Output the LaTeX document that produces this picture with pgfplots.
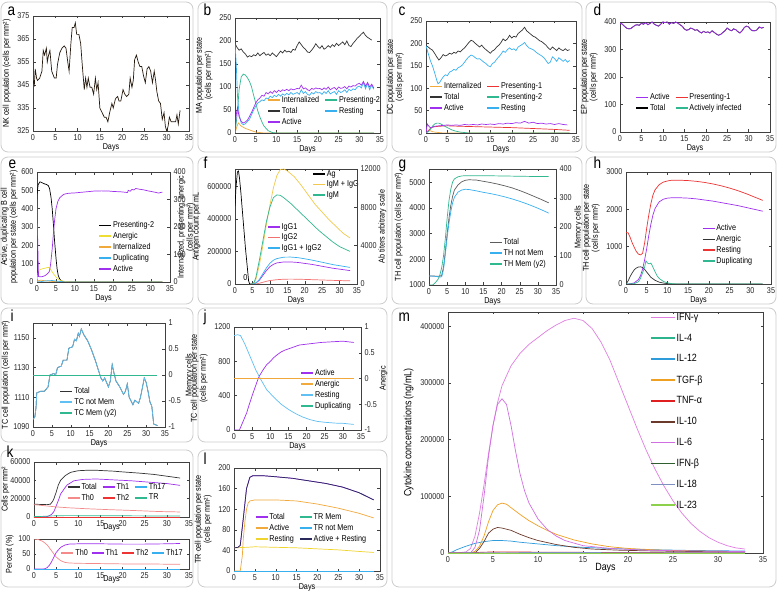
\documentclass[border=0pt]{standalone}
\usepackage{pgfplots}
\pgfplotsset{compat=1.18}
\usepackage{fontspec}
\setmainfont{Liberation Sans}[FakeStretch=0.85]

\definecolor{cblk}{HTML}{333333}
\definecolor{cpur}{HTML}{A030F0}
\definecolor{cgrn}{HTML}{30B890}
\definecolor{cblu}{HTML}{38B0F0}
\definecolor{corg}{HTML}{F2A93B}
\definecolor{cred}{HTML}{EE3333}
\definecolor{cyel}{HTML}{EEDD33}
\definecolor{cpink}{HTML}{F48A8A}
\definecolor{cigy}{HTML}{F2C94C}
\definecolor{mifng}{HTML}{E07FE0}
\definecolor{mil4}{HTML}{2CB58C}
\definecolor{mil12}{HTML}{2E9CDB}
\definecolor{mtgf}{HTML}{F0A020}
\definecolor{mtnf}{HTML}{E02020}
\definecolor{mil10}{HTML}{6B3A2A}
\definecolor{mil6}{HTML}{D070E0}
\definecolor{mifnb}{HTML}{2F5F2F}
\definecolor{mil18}{HTML}{7F8FBF}
\definecolor{mil23}{HTML}{8CD04C}

\newcommand{\sfont}{\fontsize{8.5}{9}\selectfont}
\newcommand{\mfont}{\fontsize{10.5}{11.5}\selectfont}

\pgfplotsset{
  ticks/.style={
    scale only axis, xmin=0, xmax=35, anchor=south west,
    tick align=inside, major tick length=2.5pt,
    axis line style={black!75, line width=0.5pt},
    every tick/.style={black!75, line width=0.4pt},
    tick label style={font=\sfont, black!85},
    label style={font=\sfont},
    ylabel style={align=center},
    /pgf/number format/assume math mode=true,
    scaled ticks=false,
    yticklabel style={/pgf/number format/fixed, /pgf/number format/1000 sep={}},
    no markers,
    every axis plot/.append style={line width=0.7pt},
  },
  leg/.style={
    legend style={draw=none, fill=none, font=\sfont,
      inner sep=0pt, row sep=1.2pt, nodes={inner sep=1pt},
      /tikz/every even column/.append style={column sep=4pt}},
    legend cell align=left,
    legend image code/.code={\draw[##1, line width=1.8pt] (0pt,0pt) -- (12pt,0pt);},
  },
  base/.style={
    ticks, leg, xtick={0,5,...,35},
    xlabel={Days}, xlabel style={yshift=4pt},
  },
  twin/.style={ticks, leg, axis x line=none, axis y line*=right},
}

\begin{document}
\begin{tikzpicture}[x=1pt,y=1pt]
\path[use as bounding box, fill=white] (0,0) rectangle (777,590);
\begin{scope}[black!20, line width=0.8pt, rounded corners=7pt]
\draw (1,438) rectangle (193,588);
\draw (198,438) rectangle (387,588);
\draw (392,438) rectangle (582,588);
\draw (586,438) rectangle (776,588);
\draw (1,286) rectangle (193,433);
\draw (198,286) rectangle (387,433);
\draw (392,286) rectangle (582,433);
\draw (586,286) rectangle (776,433);
\draw (1,148) rectangle (193,282);
\draw (198,148) rectangle (387,282);
\draw (1,3) rectangle (193,140);
\draw (198,3) rectangle (387,140);
\draw (392,3) rectangle (776,282);
\end{scope}
\begin{scope}[font=\fontsize{16}{16}\selectfont]
\node[anchor=base west] at (4,574) {a};
\node[anchor=base west] at (200,574) {b};
\node[anchor=base west] at (395,574) {c};
\node[anchor=base west] at (590,574) {d};
\node[anchor=base west] at (5,421) {e};
\node[anchor=base west] at (200,421) {f};
\node[anchor=base west] at (395,421) {g};
\node[anchor=base west] at (590,421) {h};
\node[anchor=base west] at (7,268) {i};
\node[anchor=base west] at (200,268) {j};
\node[anchor=base west] at (395,268) {m};
\node[anchor=base west] at (3,133) {k};
\node[anchor=base west] at (200,126) {l};
\end{scope}
\begin{scope}[font=\sfont]
\node[rotate=90, anchor=north, align=center] at (174,363) {Internalized, presenting, anergic\\(cells per mm²)};
\node[rotate=90, anchor=north] at (375,363.5) {Ab titers arbitrary scale};
\node[rotate=90, anchor=north] at (571,363) {Memory cells};
\node[rotate=90, anchor=north] at (182,215) {Memory cells};
\node[rotate=90, anchor=north] at (376,211.5) {Anergic};
\end{scope}

% a
\begin{axis}[base, at={(33pt,459pt)}, width=156pt, height=115pt,
  ymin=325, ymax=375, ytick={325,335,...,375},
  ylabel={NK cell population (cells per mm²)}]
\addplot[color=black!80!brown] coordinates {(0,347)(0.3,345)(0.5,352)(0.8,348)(1,347)(1.5,348)(2,351)(2.3,360)(2.6,358)(3,361)(3.2,355)(3.5,358)(3.8,360)(4.2,351)(4.8,348)(5.2,348)(5.5,354)(6,359)(6.5,361)(7,362)(7.4,361)(7.8,355)(8.1,351)(8.5,363)(8.8,370)(9.2,370)(9.5,372)(9.8,367)(10.3,367)(10.7,363)(11,355)(11.5,343)(11.8,348)(12.1,344)(12.4,348)(12.8,344)(13.2,344)(13.6,341)(14,348)(14.3,343)(14.6,346)(15,335)(15.5,333)(16,331)(16.4,331)(16.8,329)(17.2,333)(17.7,337)(18,335)(18.5,339)(19,340)(19.3,338)(19.7,338)(20.2,343)(20.6,341)(21,340)(21.5,341)(21.8,348)(22.2,344)(22.5,347)(22.8,356)(23.2,358)(23.6,355)(24,353)(24.4,353)(24.8,349)(25.2,346)(25.6,352)(26,353)(26.4,351)(26.8,346)(27.2,351)(27.5,347)(27.8,342)(28.2,338)(28.6,337)(29,330)(29.4,333)(29.7,327)(30,325)(30.3,327)(30.6,331)(31,329)(31.5,329)(32,329)(32.3,332)(32.6,328)(33,334)};
\end{axis}

% b
\begin{axis}[base, at={(235pt,457pt)}, width=145pt, height=115pt,
  ymin=0, ymax=250, ytick={0,50,...,250},
  ylabel={MA population per state\\(cells per mm²)},
  legend columns=2, legend style={at={(0.22,0.33)}, anchor=north west}]
\addplot[corg] coordinates {(0,0)(0.5,15)(0.8,22)(1.5,15)(2.5,10)(4,5)(5,2)(7,0)(33.5,0)};
\addlegendentry{Internalized}
\addplot[cgrn] coordinates {(0,0)(0.4,30)(0.7,60)(1,95)(1.5,122)(2,128)(2.5,126)(3,120)(3.5,112)(4,100)(4.5,82)(5,65)(5.5,48)(6,35)(6.5,24)(7,15)(8,5)(9,1)(10,0)(33.5,0)};
\addlegendentry{Presenting-2}
\addplot[cblk] coordinates {(0,195)(0.5,186)(1,180)(1.5,183)(2,176)(2.5,172)(3,165)(3.5,168)(4,166)(4.5,170)(5,168)(5.5,174)(6,168)(6.5,172)(7,175)(7.5,169)(8,172)(8.5,168)(9,174)(9.5,170)(10,166)(10.5,172)(11,178)(11.5,174)(12,180)(12.5,176)(13,178)(13.5,175)(14,182)(14.5,180)(15,190)(15.5,198)(16,192)(16.5,186)(17,182)(17.5,176)(18,175)(18.5,180)(19,186)(19.5,194)(20,188)(20.5,184)(21,190)(21.5,182)(22,185)(22.5,190)(23,186)(23.5,192)(24,188)(24.5,195)(25,190)(25.5,194)(26,198)(26.5,192)(27,200)(27.5,190)(28,188)(28.5,195)(29,200)(29.5,206)(30,210)(30.5,215)(31,219)(31.5,212)(32,208)(32.5,205)(33,202)};
\addlegendentry{Total}
\addplot[cblu] coordinates {(0,195)(0.3,150)(0.6,80)(1,40)(1.5,22)(2,18)(2.5,20)(3,25)(3.5,30)(4,40)(4.5,50)(5,58)(5.5,65)(6,68)(6.5,72)(7,70)(7.5,76)(8,74)(8.5,80)(9,77)(9.5,82)(10,79)(10.5,84)(11,80)(11.5,85)(12,82)(12.5,86)(13,83)(13.5,88)(14,84)(14.5,86)(15,88)(15.5,84)(16,94)(16.5,86)(17,90)(17.5,84)(18,82)(18.5,88)(19,85)(19.5,90)(20,87)(20.5,88)(21,84)(21.5,90)(22,86)(22.5,92)(23,85)(23.5,88)(24,90)(24.5,84)(25,92)(25.5,88)(26,90)(26.5,94)(27,88)(27.5,95)(28,92)(28.5,96)(29,94)(29.5,100)(30,102)(30.5,98)(31,110)(31.5,96)(32,108)(32.5,94)(33,104)(33.5,95)};
\addlegendentry{Resting}
\addplot[cpur] coordinates {(0,0)(0.3,40)(0.6,55)(1,35)(1.5,25)(2,22)(2.5,24)(3,28)(3.5,36)(4,45)(4.5,55)(5,65)(5.5,72)(6,76)(6.5,82)(7,80)(7.5,88)(8,85)(8.5,90)(9,86)(9.5,92)(10,88)(10.5,93)(11,90)(11.5,94)(12,92)(12.5,95)(13,92)(13.5,96)(14,94)(14.5,95)(15,97)(15.5,96)(16,104)(16.5,96)(17,98)(17.5,94)(18,92)(18.5,97)(19,95)(19.5,98)(20,96)(20.5,97)(21,94)(21.5,98)(22,95)(22.5,100)(23,94)(23.5,97)(24,99)(24.5,94)(25,100)(25.5,97)(26,98)(26.5,101)(27,96)(27.5,102)(28,100)(28.5,103)(29,102)(29.5,106)(30,108)(30.5,104)(31,112)(31.5,102)(32,110)(32.5,100)(33,106)(33.5,98)};
\addlegendentry{Active}
\end{axis}

% c
\begin{axis}[base, at={(426pt,457pt)}, width=150pt, height=112pt,
  ymin=0, ymax=250, ytick={0,50,...,250},
  ylabel={DC population per state\\(cells per mm²)},
  legend columns=2, legend style={at={(0.02,0.46)}, anchor=north west}]
\addplot[corg] coordinates {(0,0)(0.5,4)(1,5)(1.5,3)(2,2)(3,1)(4,0)(33.5,0)};
\addlegendentry{Internalized}
\addplot[cred] coordinates {(0,0)(0.5,5)(1,10)(1.5,13)(2,14)(3,15)(5,16)(8,15)(12,14)(16,13)(20,12)(25,10)(30,8)(33.5,6)};
\addlegendentry{Presenting-1}
\addplot[cblk] coordinates {(0,195)(0.5,192)(1,188)(1.5,185)(2,178)(2.5,170)(3,163)(3.5,168)(4,175)(4.5,172)(5,174)(5.5,178)(6,176)(6.5,180)(7,178)(7.5,183)(8,181)(8.5,186)(9,190)(9.5,196)(10,202)(10.5,207)(11,205)(11.5,200)(12,196)(12.5,192)(13,196)(13.5,190)(14,186)(14.5,182)(15,178)(15.5,183)(16,186)(16.5,192)(17,196)(17.5,202)(18,210)(18.5,206)(19,210)(19.5,218)(20,212)(20.5,216)(21,214)(21.5,222)(22,226)(22.5,230)(23,236)(23.5,228)(24,224)(24.5,220)(25,216)(25.5,214)(26,210)(26.5,206)(27,204)(27.5,200)(28,196)(28.5,190)(29,186)(29.5,192)(30,188)(30.5,184)(31,190)(31.5,186)(32,184)(32.5,188)(33,184)(33.5,186)};
\addlegendentry{Total}
\addplot[cgrn] coordinates {(0,0)(0.5,3)(1,8)(1.5,15)(2,20)(2.5,22)(3,22)(3.5,20)(4,17)(5,12)(6,7)(7,4)(8,2)(9,1)(10,0)(33.5,0)};
\addlegendentry{Presenting-2}
\addplot[cpur] coordinates {(0,0)(0.3,20)(0.6,16)(1,12)(1.5,13)(2,15)(3,16)(4,17)(5,18)(6,17)(7,18)(8,17)(9,19)(10,18)(11,19)(12,18)(13,20)(14,19)(15,20)(16,19)(17,21)(18,20)(19,22)(20,21)(21,23)(22,22)(23,26)(24,22)(25,24)(26,21)(27,22)(28,20)(29,21)(30,19)(31,21)(32,19)(33,18)};
\addlegendentry{Active}
\addplot[cblu] coordinates {(0,195)(0.5,178)(1,162)(1.5,150)(2,135)(2.5,118)(2.8,110)(3.2,113)(3.5,118)(4,125)(4.5,130)(5,128)(5.5,136)(6,138)(6.5,142)(7,140)(7.5,146)(8,148)(8.5,152)(9,158)(9.5,165)(10,170)(10.5,174)(11,172)(11.5,168)(12,165)(12.5,166)(13,162)(13.5,158)(14,155)(14.5,150)(15,148)(15.5,155)(16,158)(16.5,165)(17,170)(17.5,176)(18,183)(18.5,180)(19,186)(19.5,190)(20,186)(20.5,188)(21,184)(21.5,192)(22,195)(22.5,198)(23,202)(23.5,195)(24,190)(24.5,188)(25,186)(25.5,182)(26,178)(26.5,175)(27,172)(27.5,168)(28,162)(28.5,155)(29,158)(29.5,170)(30,166)(30.5,160)(31,168)(31.5,164)(32,160)(32.5,164)(33,158)(33.5,162)};
\addlegendentry{Resting}
\end{axis}

% d
\begin{axis}[base, at={(620pt,458pt)}, width=150pt, height=110pt,
  ymin=0, ymax=400, ytick={0,100,...,400},
  ylabel={EP population per state\\(cells per mm²)},
  legend columns=2, legend style={at={(0.1,0.36)}, anchor=north west}]
\addplot[black, forget plot] coordinates {(0,395)(0.5,393)(1,385)(1.5,378)(2,375)(2.5,376)(3,382)(3.5,388)(4,390)(4.5,388)(5,395)(5.5,392)(6,398)(6.5,390)(7,395)(7.5,400)(8,392)(8.5,388)(9,385)(9.5,392)(10,400)(10.5,398)(11,400)(11.5,392)(12,398)(12.5,395)(13,400)(13.5,396)(14,390)(14.5,385)(15,375)(15.5,370)(16,372)(16.5,378)(17,375)(17.5,370)(18,372)(18.5,365)(19,360)(19.5,366)(20,362)(20.5,364)(21,360)(21.5,368)(22,362)(22.5,356)(23,352)(23.5,355)(24,362)(24.5,368)(25,378)(25.5,372)(26,368)(26.5,375)(27,372)(27.5,365)(28,360)(28.5,368)(29,380)(29.5,385)(30,382)(30.5,372)(31,368)(31.5,368)(32,372)(32.5,382)(33,378)(33.5,380)};
\addplot[cpur] coordinates {(0,395)(0.5,393)(1,385)(1.5,378)(2,375)(2.5,376)(3,382)(3.5,388)(4,390)(4.5,388)(5,395)(5.5,392)(6,398)(6.5,390)(7,395)(7.5,400)(8,392)(8.5,388)(9,385)(9.5,392)(10,400)(10.5,398)(11,400)(11.5,392)(12,398)(12.5,395)(13,400)(13.5,396)(14,390)(14.5,385)(15,375)(15.5,370)(16,372)(16.5,378)(17,375)(17.5,370)(18,372)(18.5,365)(19,360)(19.5,366)(20,362)(20.5,364)(21,360)(21.5,368)(22,362)(22.5,356)(23,352)(23.5,355)(24,362)(24.5,368)(25,378)(25.5,372)(26,368)(26.5,375)(27,372)(27.5,365)(28,360)(28.5,368)(29,380)(29.5,385)(30,382)(30.5,372)(31,368)(31.5,368)(32,372)(32.5,382)(33,378)(33.5,380)};
\addlegendentry{Active}
\addplot[cgrn, forget plot] coordinates {(0,0)(33.5,0)};
\addplot[cred] coordinates {(0,0)(33.5,0)};
\addlegendentry{Presenting-1}
\addlegendimage{black}
\addlegendentry{Total}
\addlegendimage{cgrn}
\addlegendentry{Actively infected}
\end{axis}

% e
\begin{axis}[base, at={(37pt,308pt)}, width=133pt, height=110pt,
  ymin=0, ymax=600, ytick={0,100,...,600}, ytick pos=left,
  ylabel={Active, duplicating B cell\\population per state (cells per mm²)},
  ylabel style={yshift=-3pt},
  legend style={at={(0.46,0.56)}, anchor=north west}]
\addplot[black] coordinates {(0,480)(0.3,530)(0.7,545)(1,545)(1.5,540)(2,535)(2.5,532)(3,525)(3.3,510)(3.7,460)(4,400)(4.3,320)(4.6,230)(5,130)(5.3,70)(5.6,35)(6,15)(6.5,5)(7,2)(8,0)(33,0)};
\addlegendentry{Presenting-2}
\addplot[cyel] coordinates {(0,0)(0.3,50)(0.6,65)(1,70)(2,75)(3,80)(3.5,72)(4,55)(4.5,40)(5,28)(5.5,18)(6,10)(7,4)(8,1)(10,0)(33,0)};
\addlegendentry{Anergic}
\addplot[corg] coordinates {(0,0)(0.5,8)(1,10)(2,7)(3,5)(4,3)(5,2)(6,1)(8,0)(33,0)};
\addlegendentry{Internalized}
\addplot[cblu] coordinates {(0,0)(1,2)(2,5)(3,7)(4,8)(5,5)(6,3)(7,1)(8,0)(33,0)};
\addlegendentry{Duplicating}
\addplot[cpur] coordinates {(0,450)(0.2,200)(0.4,30)(1,28)(1.5,30)(2,34)(2.5,40)(3,50)(3.3,60)(3.6,100)(4,180)(4.3,260)(4.6,330)(5,400)(5.5,440)(6,460)(7,478)(8,483)(9,485)(10,486)(12,490)(14,494)(15,496)(17,497)(19,496)(20,494)(22,492)(23,490)(23.8,488)(24,500)(24.5,495)(25,505)(25.5,502)(26,510)(27,506)(28,503)(29,498)(30,494)(31,490)(32,485)(32.5,488)(33,490)};
\addlegendentry{Active}
\end{axis}
\begin{axis}[twin, at={(37pt,308pt)}, width=133pt, height=110pt,
  ymin=0, ymax=400, ytick={0,100,...,400}]
\end{axis}

% f
\begin{axis}[base, at={(235pt,306pt)}, width=122pt, height=115pt,
  ymin=0, ymax=708000, ytick={0,200000,400000,600000}, ytick pos=left,
  ylabel={Antigen count per mL},
  legend style={at={(0.63,1.0)}, anchor=north west}]
\addplot[black] coordinates {(0,480000)(0.3,600000)(0.7,690000)(1,695000)(1.3,650000)(1.7,560000)(2,480000)(2.5,350000)(3,220000)(3.5,110000)(3.9,20000)(4.2,0)(5,0)};
\addlegendentry{Ag}
\addlegendimage{cigy}
\addlegendentry{IgM + IgG}
\addlegendimage{cgrn}
\addlegendentry{IgM}
\node[font=\sfont, anchor=south] at (axis cs:3,0) {0};
\end{axis}
\begin{axis}[twin, at={(235pt,306pt)}, width=122pt, height=115pt,
  ymin=0, ymax=12000, ytick={0,4000,8000,12000},
  legend style={at={(0.26,0.54)}, anchor=north west}]
\addplot[cpur] coordinates {(4.5,0)(5,0)(6,100)(7,400)(8,900)(9,1400)(10,1800)(11,2050)(12,2200)(14,2300)(16,2300)(18,2250)(20,2150)(22,2050)(25,1850)(28,1650)(31,1500)(33,1400)};
\addlegendentry{IgG1}
\addplot[cred!70] coordinates {(4.5,0)(6,0)(7,80)(8,180)(9,280)(10,360)(12,450)(14,500)(16,510)(18,500)(20,480)(24,430)(28,380)(33,330)};
\addlegendentry{IgG2}
\addplot[cblu] coordinates {(4.5,0)(5,0)(6,120)(7,480)(8,1080)(9,1680)(10,2160)(11,2480)(12,2650)(14,2800)(16,2810)(18,2750)(20,2630)(22,2500)(25,2270)(28,2030)(31,1850)(33,1730)};
\addlegendentry{IgG1 + IgG2}
\addplot[cigy, forget plot] coordinates {(4.5,0)(5,0)(5.5,150)(6,500)(7,2000)(8,4000)(9,6200)(10,8200)(11,10000)(12,11300)(13,11950)(14,12000)(15,11800)(17,11200)(19,10300)(21,9300)(23,8300)(25,7500)(27,6700)(29,6000)(31,5300)(33,4800)};
\addplot[cgrn, forget plot] coordinates {(4.5,0)(5,0)(5.5,200)(6,700)(7,2500)(8,4500)(9,6500)(10,8000)(11,9000)(12,9300)(13,9250)(14,9000)(16,8400)(18,7700)(20,7000)(22,6300)(24,5600)(26,5000)(28,4400)(30,3900)(33,3400)};
\end{axis}

% g
\begin{axis}[base, at={(429pt,305pt)}, width=127pt, height=116pt,
  ymin=1000, ymax=5520, ytick={1000,2000,...,5000}, ytick pos=left,
  ylabel={TH cell population (cells per mm²)},
  legend style={at={(0.47,0.41)}, anchor=north west}]
\addplot[cblk!80] coordinates {(0,1350)(1,1350)(2,1345)(3,1340)(3.5,1380)(4,1700)(4.5,2300)(5,3000)(5.5,3600)(6,4100)(6.5,4450)(7,4700)(8,4900)(9,5020)(10,5080)(11,5100)(13,5090)(15,5040)(17,4990)(19,4930)(21,4860)(23,4780)(25,4680)(27,4570)(29,4450)(31,4330)(33,4200)};
\addlegendentry{Total}
\addplot[cblu] coordinates {(0,1350)(1,1345)(2,1330)(3,1310)(3.5,1320)(4,1600)(4.5,2200)(5,2850)(5.5,3400)(6,3850)(6.5,4200)(7,4420)(8,4620)(9,4700)(10,4730)(11,4720)(13,4670)(15,4610)(17,4560)(19,4500)(21,4430)(23,4350)(25,4260)(27,4160)(29,4050)(31,3930)(33,3800)};
\addlegendentry{TH not Mem}
\addlegendimage{cgrn}
\addlegendentry{TH Mem (y2)}
\end{axis}
\begin{axis}[twin, at={(429pt,305pt)}, width=127pt, height=116pt,
  ymin=0, ymax=400, ytick={0,100,...,400}]
\addplot[cgrn] coordinates {(0,0)(1,0)(1.5,5)(2,12)(2.5,20)(3,35)(3.5,60)(4,100)(4.5,160)(5,230)(5.5,290)(6,330)(6.5,355)(7,366)(8,373)(9,376)(10,377)(12,377)(15,377)(20,376)(25,375)(30,374)(33,374)};
\end{axis}

% h
\begin{axis}[base, at={(626pt,306pt)}, width=145pt, height=112pt,
  ymin=0, ymax=3000, ytick={0,1000,2000,3000},
  ylabel={TH cell population per state\\(cells per mm²)},
  legend style={at={(0.52,0.54)}, anchor=north west}]
\addplot[cpur] coordinates {(0,0)(1,5)(2,30)(3,120)(3.5,220)(4,400)(4.5,650)(5,950)(5.5,1300)(6,1600)(6.5,1850)(7,2020)(8,2200)(9,2270)(10,2300)(11,2310)(13,2310)(15,2300)(17,2280)(19,2250)(21,2220)(23,2180)(25,2140)(27,2100)(29,2050)(31,2000)(33,1950)};
\addlegendentry{Active}
\addplot[cblk] coordinates {(0,0)(0.5,80)(1,200)(1.5,300)(2,380)(2.5,430)(3,455)(3.5,460)(4,440)(4.5,390)(5,320)(5.5,250)(6,180)(7,100)(8,50)(9,25)(10,10)(11,4)(12,0)(33,0)};
\addlegendentry{Anergic}
\addplot[cred] coordinates {(0,1380)(0.5,1370)(1,1250)(1.5,1100)(2,980)(2.5,870)(3,800)(3.5,780)(4,820)(4.5,1100)(5,1500)(5.5,1850)(6,2150)(6.5,2380)(7,2520)(8,2660)(9,2730)(10,2760)(11,2780)(13,2780)(15,2770)(17,2750)(19,2720)(21,2680)(23,2630)(25,2570)(27,2500)(29,2420)(31,2330)(33,2240)};
\addlegendentry{Resting}
\addplot[cgrn] coordinates {(0,0)(2,10)(3,60)(3.5,150)(4,300)(4.5,450)(4.8,620)(5.2,560)(5.6,540)(6,560)(6.3,500)(7,330)(7.5,220)(8,150)(9,70)(10,30)(11,10)(12,3)(13,0)(33,0)};
\addlegendentry{Duplicating}
\end{axis}

% i
\begin{axis}[base, at={(33pt,163pt)}, width=132pt, height=104pt,
  ymin=1090, ymax=1160, ytick={1090,1110,1130,1150}, ytick pos=left,
  ylabel={TC cell population (cells per mm²)}, ylabel style={yshift=-3pt},
  legend style={at={(0.2,0.39)}, anchor=north west}]
\addplot[cblk] coordinates {(0,1095)(0.5,1097)(0.8,1103)(1,1113)(2,1114)(3,1114)(4,1117)(4.5,1125)(5.5,1126)(6,1125)(6.5,1130)(7.5,1131)(8,1135)(9,1135)(9.5,1143)(10.5,1144)(11,1149)(11.5,1148)(12,1153)(12.3,1151)(12.8,1156)(13.5,1152)(14.5,1148)(15.5,1142)(16.5,1135)(17.5,1127)(18,1123)(18.5,1121)(19,1123)(20,1117)(20.5,1121)(21,1132)(21.5,1126)(22,1121)(23,1117)(24,1112)(24.5,1114)(25,1119)(25.5,1110)(26.5,1105)(27,1108)(28,1106)(28.5,1110)(29.2,1119)(29.5,1123)(30,1120)(30.5,1114)(31,1107)(31.5,1104)(32,1092)(33,1091)};
\addlegendentry{Total}
\addplot[cblu!80] coordinates {(0,1095)(0.5,1097)(0.8,1103)(1,1113)(2,1114)(3,1114)(4,1117)(4.5,1125)(5.5,1126)(6,1125)(6.5,1130)(7.5,1131)(8,1135)(9,1135)(9.5,1143)(10.5,1144)(11,1149)(11.5,1148)(12,1153)(12.3,1151)(12.8,1156)(13.5,1152)(14.5,1148)(15.5,1142)(16.5,1135)(17.5,1127)(18,1123)(18.5,1121)(19,1123)(20,1117)(20.5,1121)(21,1132)(21.5,1126)(22,1121)(23,1117)(24,1112)(24.5,1114)(25,1119)(25.5,1110)(26.5,1105)(27,1108)(28,1106)(28.5,1110)(29.2,1119)(29.5,1123)(30,1120)(30.5,1114)(31,1107)(31.5,1104)(32,1092)(33,1091)};
\addlegendentry{TC not Mem}
\addlegendimage{cgrn}
\addlegendentry{TC Mem (y2)}
\end{axis}
\begin{axis}[twin, at={(33pt,163pt)}, width=132pt, height=104pt,
  ymin=-1, ymax=1, ytick={-1,-0.5,0,0.5,1}]
\addplot[cgrn] coordinates {(0,0)(33,0)};
\end{axis}

% j
\begin{axis}[base, at={(234pt,160pt)}, width=127pt, height=103pt,
  ymin=0, ymax=1200, ytick={0,400,800,1200}, ytick pos=left,
  ylabel={TC cell population per state\\(cells per mm²)},
  legend style={at={(0.52,0.6)}, anchor=north west}]
\addplot[cpur] coordinates {(0,0)(1.5,0)(2,50)(2.5,100)(3,150)(3.5,200)(4,270)(5,400)(6,520)(6.5,580)(7,630)(8,700)(9,760)(10,800)(11,845)(12,880)(13,910)(14,930)(15,945)(16,960)(17,975)(18,990)(20,1000)(22,1010)(24,1020)(26,1025)(28,1030)(30,1035)(31,1030)(33,1020)};
\addlegendentry{Active}
\addlegendimage{corg}
\addlegendentry{Anergic}
\addplot[cblu!80] coordinates {(0,1100)(1,1110)(1.8,1100)(3,1000)(4.5,850)(6,700)(7.5,580)(9,470)(11,380)(13,300)(15,240)(17,190)(19,150)(21,120)(23,100)(25,90)(28,80)(30,78)(33,65)};
\addlegendentry{Resting}
\addplot[cgrn] coordinates {(0,0)(33,0)};
\addlegendentry{Duplicating}
\end{axis}
\begin{axis}[twin, at={(234pt,160pt)}, width=127pt, height=103pt,
  ymin=-1, ymax=1, ytick={-1,-0.5,0,0.5,1}]
\addplot[corg] coordinates {(0,0)(33,0)};
\end{axis}

% k upper
\begin{axis}[base, at={(34pt,73pt)}, width=155pt, height=55pt,
  ymin=0, ymax=60000, ytick={0,20000,40000,60000},
  ylabel={Cells per mm²}, ylabel style={yshift=-6pt}, xlabel style={yshift=6pt},
  legend columns=3, legend style={at={(0.21,0.64)}, anchor=north west}]
\addplot[cblk] coordinates {(0,14000)(1,13800)(2,13600)(3,13500)(3.7,14000)(4.2,17000)(4.5,20000)(5,27000)(5.5,35000)(6,40000)(7,45000)(8,48000)(8.5,49000)(10,50500)(12,51000)(14,51000)(16,50500)(18,50000)(20,49200)(22,48500)(24,47800)(27,46500)(30,44500)(33,42500)};
\addlegendentry{Total}
\addplot[cpur] coordinates {(0,0)(2,200)(3,500)(3.5,1500)(4,3000)(4.5,6000)(5,12000)(5.5,18000)(6,25000)(7,32000)(7.5,35000)(8.5,38000)(9,39500)(11,41000)(14,41500)(16,41000)(18,40500)(22,39500)(26,38000)(30,36500)(33,34500)};
\addlegendentry{Th1}
\addplot[cblu] coordinates {(0,0)(33,0)};
\addlegendentry{Th17}
\addplot[cpink] coordinates {(0,13500)(1,13000)(2,12500)(3,12000)(5,11000)(8,10000)(12,9000)(17,8000)(23,7000)(28,6000)(33,5500)};
\addlegendentry{Th0}
\addplot[cred] coordinates {(0,0)(33,0)};
\addlegendentry{Th2}
\addplot[cgrn] coordinates {(0,500)(2,700)(4,1200)(7,1500)(12,1450)(20,1300)(27,1150)(33,1000)};
\addlegendentry{TR}
\end{axis}

% k lower
\begin{axis}[base, at={(34pt,21pt)}, width=155pt, height=30pt,
  ymin=0, ymax=100, ytick={0,50,100},
  ylabel={Percent (\%)}, ylabel style={yshift=-2pt}, xlabel style={yshift=6pt},
  legend columns=4, legend style={at={(0.17,0.53)}, anchor=west,
    /tikz/every even column/.append style={column sep=2pt}}]
\addplot[cpink] coordinates {(0,100)(1,98)(2,92)(3,80)(4,60)(5,40)(6,28)(7,22)(8,20)(10,19)(15,18)(20,17)(25,17)(30,16)(33,16)};
\addlegendentry{Th0}
\addplot[cpur] coordinates {(0,0)(2,0)(2.5,1)(3,5)(3.5,13)(4,25)(5,55)(6,72)(7,80)(8,83)(10,84)(15,84)(20,83)(25,83)(30,84)(33,85)};
\addlegendentry{Th1}
\addplot[cred] coordinates {(0,0)(33,0)};
\addlegendentry{Th2}
\addplot[cblu] coordinates {(0,0)(33,0)};
\addlegendentry{Th17}
\end{axis}

% l
\begin{axis}[base, at={(234pt,19pt)}, width=146pt, height=103pt,
  ymin=0, ymax=200, ytick={0,40,...,200},
  ylabel={TR cell population per state\\(cells per mm²)},
  legend columns=2, legend style={at={(0.14,0.57)}, anchor=north west}]
\addplot[cpur] coordinates {(0,45)(1,46)(1.5,50)(2.2,100)(3,160)(3.8,182)(4.5,185)(7,185)(10,183)(14,180)(18,175)(22,170)(26,163)(30,152)(33.5,138)};
\addlegendentry{Total}
\addplot[cgrn] coordinates {(0,0)(33.5,0)};
\addlegendentry{TR Mem}
\addplot[corg] coordinates {(0,0)(1.5,0)(2,30)(2.2,60)(2.6,95)(3,120)(3.4,132)(3.8,136)(5,138)(10,138)(15,136)(20,130)(25,122)(30,112)(33.5,103)};
\addlegendentry{Active}
\addplot[cblu, forget plot] coordinates {(0,0)(33.5,0)};
\addlegendimage{cblu}
\addlegendentry{TR not Mem}
\addplot[cyel!90!orange] coordinates {(0,45)(3,46)(5,47)(10,46)(15,45)(20,43)(25,41)(30,38)(33.5,36)};
\addlegendentry{Resting}
\addplot[cblk!80!blue] coordinates {(0,45)(1,46)(1.5,50)(2.2,100)(3,160)(3.8,182)(4.5,185)(7,185)(10,183)(14,180)(18,175)(22,170)(26,163)(30,152)(33.5,138)};
\addlegendentry{Active + Resting}
\end{axis}

% m
\begin{axis}[base, at={(448pt,37pt)}, width=315pt, height=241pt,
  ymin=0, ymax=425000, ytick={0,100000,...,400000},
  ylabel={Cytokine concentrations (ng/mL)},
  tick label style={font=\mfont}, label style={font=\mfont},
  xlabel style={yshift=2pt},
  every axis plot/.append style={line width=1.3pt},
  legend style={at={(0.64,1.0)}, anchor=north west, row sep=10pt, font=\mfont},
  legend image code/.code={\draw[#1, line width=1.8pt] (0pt,0pt) -- (24pt,0pt);}]
\addplot[mifng] coordinates {(0,0)(1,0)(2,2000)(2.5,8000)(3,30000)(3.5,70000)(4,120000)(4.5,175000)(5,225000)(5.5,265000)(6,295000)(7,330000)(8,352000)(9,368000)(10,380000)(11,392000)(12,402000)(13,410000)(14,414000)(15,410000)(16,396000)(17,372000)(18,340000)(19,300000)(20,260000)(21,220000)(22,182000)(23,148000)(24,118000)(25,92000)(26,70000)(27,52000)(28,38000)(29,27000)(30,19000)(31,13000)(32,9000)(33,7000)};
\addlegendentry{IFN-γ}
\addplot[mil4] coordinates {(0,0)(33,0)};
\addlegendentry{IL-4}
\addplot[mil12] coordinates {(0,0)(0.5,2000)(1,6000)(2,12000)(3,17000)(4,20000)(5,22000)(6,22000)(7,21000)(8,19000)(10,16000)(12,13000)(15,10000)(18,8000)(22,6000)(27,4500)(33,3500)};
\addlegendentry{IL-12}
\addplot[mtgf] coordinates {(0,0)(2.5,0)(3,3000)(3.5,12000)(4,30000)(4.5,55000)(5,75000)(5.5,85000)(6,88000)(6.5,86000)(7,80000)(8,68000)(9,57000)(10,48000)(11,40000)(12,33000)(14,23000)(16,16000)(18,11000)(20,8000)(23,5500)(26,4000)(30,3000)(33,2500)};
\addlegendentry{TGF-β}
\addplot[mtnf] coordinates {(0,0)(2,0)(4,1500)(6,2000)(10,1500)(20,800)(33,500)};
\addlegendentry{TNF-α}
\addplot[mil10] coordinates {(0,0)(3,0)(3.5,8000)(4,20000)(4.5,35000)(5,42000)(5.5,45000)(6,44000)(7,40000)(8,33000)(9,27000)(10,22000)(12,15000)(14,10000)(16,7000)(19,5000)(23,3500)(28,2500)(33,2000)};
\addlegendentry{IL-10}
\addplot[mil6] coordinates {(0,0)(2.5,0)(3,10000)(3.5,40000)(4,100000)(4.5,170000)(5,225000)(5.5,262000)(6,272000)(6.5,262000)(7,225000)(7.5,180000)(8,140000)(8.5,110000)(9,88000)(10,60000)(11,42000)(12,30000)(13,22000)(15,13000)(18,8000)(22,5000)(27,3500)(33,2500)};
\addlegendentry{IL-6}
\addplot[mifnb] coordinates {(0,0)(33,0)};
\addlegendentry{IFN-β}
\addplot[mil18] coordinates {(0,0)(3,500)(10,800)(33,500)};
\addlegendentry{IL-18}
\addplot[mil23] coordinates {(0,0)(33,0)};
\addlegendentry{IL-23}
\end{axis}
\end{tikzpicture}
\end{document}
